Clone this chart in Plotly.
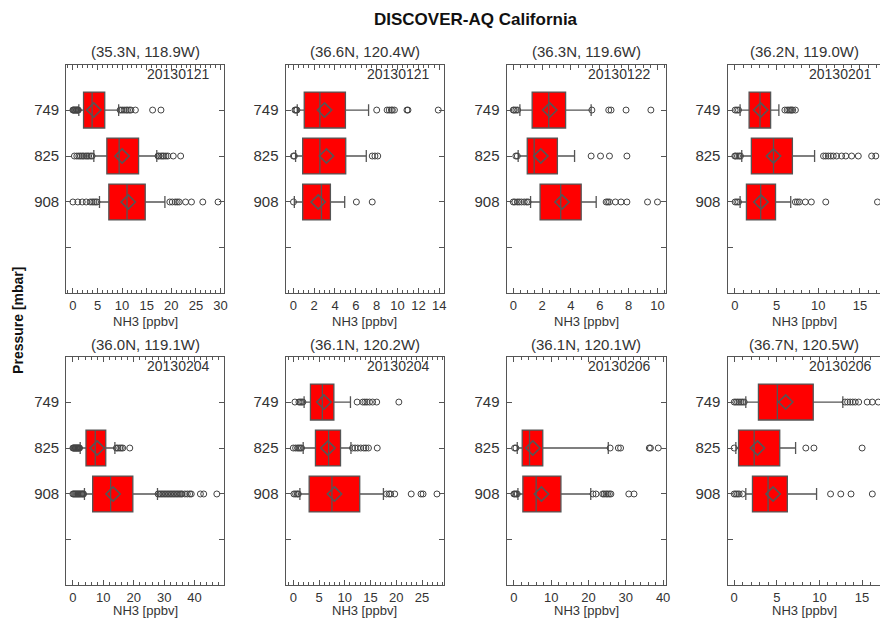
import plotly.graph_objects as go

# ---------------- data ----------------
LEVELS = ["749", "825", "908"]
LEVEL_POS = [1, 2, 3]
SITES = ["(35.3N, 118.9W)", "(36.6N, 120.4W)", "(36.3N, 119.6W)", "(36.2N, 119.0W)",
         "(36.0N, 119.1W)", "(36.1N, 120.2W)", "(36.1N, 120.1W)", "(36.7N, 120.5W)"]
DATES = ["20130121", "20130121", "20130122", "20130201",
         "20130204", "20130204", "20130206", "20130206"]

# per panel, per level [749, 825, 908]; None = no data
Q1 = [[2.16, 6.9, 7.3], [1.05, 0.9, 0.9], [1.31, 0.97, 1.86], [1.71, 1.98, 1.39],
      [None, 4.3, 6.5], [3.33, 4.3, 3.08], [None, 2.22, 2.4], [2.84, 0.51, 2.14]]
MEDIAN = [[3.9, 9.4, 11.0], [2.55, 2.55, 2.7], [2.46, 1.45, 3.29], [3.02, 4.64, 3.1],
          [None, 7.35, 12.4], [5.64, 6.86, 7.5], [None, 4.18, 5.96], [5.06, 2.34, 3.97]]
Q3 = [[6.47, 13.35, 14.7], [5.0, 5.03, 3.56], [3.63, 3.06, 4.71], [4.29, 6.9, 4.88],
      [None, 10.8, 19.7], [7.88, 9.17, 12.9], [None, 7.73, 12.6], [9.27, 5.34, 6.23]]
LOWER = [[1.2, 4.25, 5.4], [0.38, 0.22, 0.1], [0.46, 0.34, 1.2], [0.63, 0.83, 0.63],
         [None, 2.4, 3.8], [2.1, 1.92, 1.28], [None, 0.89, 1.07], [1.36, 0.19, 1.36]]
UPPER = [[9.3, 17.05, 18.7], [7.22, 7.0, 4.93], [5.4, 4.25, 5.75], [5.28, 9.56, 6.7],
         [None, 13.8, 27.8], [11.1, 11.2, 17.5], [None, 25.3, 20.6], [12.74, 7.2, 9.66]]
MEAN = [[4.25, 10.0, 11.25], [3.0, 3.18, 2.39], [2.53, 1.91, 3.38], [3.1, 4.64, 3.13],
        [None, 8.0, 13.2], [5.96, 6.73, 8.0], [None, 5.07, 7.38], [6.04, 2.73, 4.56]]
OUTLIERS = [
    [[0.0, 0.1, 0.25, 0.4, 0.55, 0.7, 0.85, 1.0, 1.1, 9.6, 10.0, 10.4, 10.8, 11.1, 11.5, 11.8, 12.7, 16.2, 17.9],
     [0.3, 0.8, 1.2, 1.55, 1.9, 2.2, 2.6, 2.9, 3.2, 3.6, 3.9, 17.3, 17.5, 17.9, 18.2, 18.5, 18.9, 19.3, 20.4, 21.9],
     [0.0, 1.0, 1.9, 2.7, 3.5, 3.9, 4.25, 4.6, 4.9, 19.7, 20.2, 20.8, 21.2, 21.6, 22.9, 24.1, 26.4, 29.5]],
    [[0.16, 0.25, 0.35, 8.0, 9.0, 9.2, 9.4, 9.5, 9.7, 10.9, 11.0, 13.9],
     [0.02, 0.1, 7.57, 7.83, 8.1],
     [0.02, 6.05, 7.57]],
    [[0.0, 0.07, 0.18, 0.3, 5.45, 6.62, 6.78, 7.82, 9.54],
     [0.18, 0.28, 5.4, 6.05, 6.67, 7.88],
     [0.0, 0.11, 0.28, 0.41, 0.57, 0.76, 0.92, 1.03, 6.44, 6.55, 6.67, 7.08, 7.47, 7.88, 9.31, 10.0]],
    [[0.04, 0.24, 0.44, 6.0, 6.27, 6.47, 6.67, 6.79, 6.94, 7.26],
     [0.0, 0.12, 0.32, 0.52, 0.67, 10.63, 10.9, 11.2, 11.5, 11.8, 12.2, 12.8, 13.3, 14.0, 14.8, 16.4, 16.9],
     [0.04, 0.24, 0.44, 7.26, 7.5, 7.74, 8.45, 9.17, 10.9, 17.1]],
    [[],
     [0.0, 0.2, 0.4, 0.6, 0.8, 1.0, 1.2, 1.4, 1.6, 1.8, 2.0, 2.2, 14.3, 14.8, 15.4, 15.9, 16.4, 18.7],
     [0.0, 0.3, 0.6, 0.9, 1.2, 1.5, 1.8, 2.1, 2.4, 2.7, 3.0, 3.3, 3.5,
      28.0, 28.5, 29.0, 29.5, 30.0, 30.5, 31.0, 31.5, 32.0, 32.5, 33.0, 33.5, 34.0, 34.5, 35.0, 35.5, 35.9,
      36.8, 37.6, 38.4, 38.9, 41.9, 43.0, 47.3]],
    [[0.32, 1.09, 1.35, 1.6, 1.86, 12.4, 13.5, 13.9, 14.3, 14.8, 15.4, 16.2, 20.5],
     [0.0, 0.45, 0.83, 1.09, 1.35, 1.6, 11.5, 12.0, 12.5, 13.1, 13.7, 14.1, 14.6, 16.3],
     [0.13, 0.45, 0.77, 0.96, 18.1, 18.6, 18.9, 19.7, 22.9, 24.8, 25.2, 27.9]],
    [[],
     [0.18, 0.53, 25.8, 28.0, 28.6, 36.3, 36.6, 38.7],
     [0.0, 0.27, 0.62, 0.89, 21.2, 22.0, 23.8, 24.2, 24.7, 25.1, 25.6, 26.0, 30.8, 32.2]],
    [[0.0, 0.19, 0.39, 0.58, 0.78, 0.97, 1.17, 13.0, 13.3, 13.6, 13.9, 14.2, 14.6, 15.6, 16.2, 16.9],
     [0.0, 8.4, 9.35, 15.0],
     [0.0, 0.19, 0.39, 0.58, 0.97, 11.3, 12.5, 13.7, 16.2]],
]
X_TICK_STEP = [5, 2, 2, 5, 10, 5, 10, 5]

# ---------------- layout / style ----------------
W, H = 885, 619
X_RANGES = [[-1.34, 30.8], [-0.73, 14.47], [-0.46, 10.57], [-0.87, 17.4],
            [-2.16, 49.8], [-1.48, 29.3], [-1.96, 40.7], [-0.78, 17.1]]
MINOR_STEP = [1, 0.5, 0.5, 1, 2, 1, 2, 1]
COLS_PX = [(66.7, 225.7), (287.3, 446.7), (509.5, 669.5), (731.7, 885.0)]
ROWS_PX = [(65.0, 293.0), (357.0, 585.0)]
XTITLE_OFF = [28, 25]
FONT = "Liberation Sans, Arial, Helvetica, sans-serif"
TXT = "#333333"
AX = "#555555"
BOXLINE = "#555555"

fig = go.Figure()
annotations = []
layout = {}

for i in range(8):
    r, c = divmod(i, 4)
    n = i + 1
    xa = "x" if n == 1 else f"x{n}"
    ya = "y" if n == 1 else f"y{n}"
    for j in range(3):
        if Q1[i][j] is None:
            continue
        pos = LEVEL_POS[j]
        fig.add_trace(go.Box(
            y=[pos], q1=[Q1[i][j]], median=[MEDIAN[i][j]], q3=[Q3[i][j]],
            lowerfence=[LOWER[i][j]], upperfence=[UPPER[i][j]],
            orientation="h", boxpoints=False, width=0.78, whiskerwidth=0.33,
            fillcolor="#FF0000", line=dict(color=BOXLINE, width=1.3),
            xaxis=xa, yaxis=ya, showlegend=False, hoverinfo="skip"))
        if OUTLIERS[i][j]:
            fig.add_trace(go.Scatter(
                x=OUTLIERS[i][j], y=[pos] * len(OUTLIERS[i][j]), mode="markers",
                marker=dict(symbol="circle-open", size=6, color="#444444", line=dict(width=1)),
                xaxis=xa, yaxis=ya, showlegend=False, hoverinfo="skip", cliponaxis=True))
        fig.add_trace(go.Scatter(
            x=[MEAN[i][j]], y=[pos], mode="markers",
            marker=dict(symbol="diamond-open", size=11, color="#555555", line=dict(width=1.6)),
            xaxis=xa, yaxis=ya, showlegend=False, hoverinfo="skip"))

    x0, x1 = COLS_PX[c]
    ytop, ybot = ROWS_PX[r]
    last_col = (c == 3)
    layout[f"xaxis{'' if n == 1 else n}"] = dict(
        domain=[x0 / W, min(x1 / W, 1.0)], anchor=ya, range=X_RANGES[i],
        dtick=X_TICK_STEP[i], tick0=0, ticks="inside", ticklen=5, tickcolor=AX,
        showline=True, linecolor=AX, linewidth=1.2, mirror="ticks",
        showgrid=False, zeroline=False,
        minor=dict(ticks="inside", ticklen=2.5, dtick=MINOR_STEP[i], tick0=0, tickcolor=AX, showgrid=False),
        tickfont=dict(family=FONT, size=13, color=TXT), ticklabelstandoff=0)
    layout[f"yaxis{'' if n == 1 else n}"] = dict(
        domain=[1 - ybot / H, 1 - ytop / H], anchor=xa, range=[4.98, 0.02],
        tickvals=[1, 2, 3, 4], ticktext=LEVELS + [""], ticks="inside", ticklen=5, tickcolor=AX,
        showline=True, linecolor=AX, linewidth=1.2, mirror=(False if last_col else "ticks"),
        showgrid=False, zeroline=False,
        tickfont=dict(family=FONT, size=15, color=TXT), ticklabelstandoff=3)

    xc = (x0 + x1) / 2 if not last_col else (x0 + x0 + 160) / 2 - 3
    annotations.append(dict(text=SITES[i], x=xc / W, y=1 - (ytop - 13) / H, xref="paper", yref="paper",
                            showarrow=False, xanchor="center", yanchor="middle",
                            font=dict(family=FONT, size=15, color=TXT)))
    annotations.append(dict(text=DATES[i], x=(x0 + 147) / W, y=1 - (ytop + 9) / H, xref="paper", yref="paper",
                            showarrow=False, xanchor="right", yanchor="middle",
                            font=dict(family=FONT, size=14, color=TXT)))
    annotations.append(dict(text="NH3 [ppbv]", x=xc / W, y=1 - (ybot + XTITLE_OFF[r]) / H, xref="paper",
                            yref="paper", showarrow=False, xanchor="center", yanchor="middle",
                            font=dict(family=FONT, size=13, color=TXT)))

annotations.append(dict(text="<b>DISCOVER-AQ California</b>", x=479 / W, y=1 - 20 / H, xref="paper", yref="paper",
                        showarrow=False, xanchor="center", yanchor="middle",
                        font=dict(family=FONT, size=17, color="#111111")))
annotations.append(dict(text="<b>Pressure [mbar]</b>", x=18 / W, y=1 - 320 / H, xref="paper", yref="paper",
                        showarrow=False, xanchor="center", yanchor="middle", textangle=-90,
                        font=dict(family=FONT, size=14, color="#111111")))

fig.update_layout(width=W, height=H, margin=dict(l=0, r=0, t=0, b=0),
                  paper_bgcolor="white", plot_bgcolor="white",
                  annotations=annotations, **layout)

fig.write_html("out.html", config={"displayModeBar": False},
               post_script="document.body.style.margin='0px';document.body.style.overflow='hidden';")
